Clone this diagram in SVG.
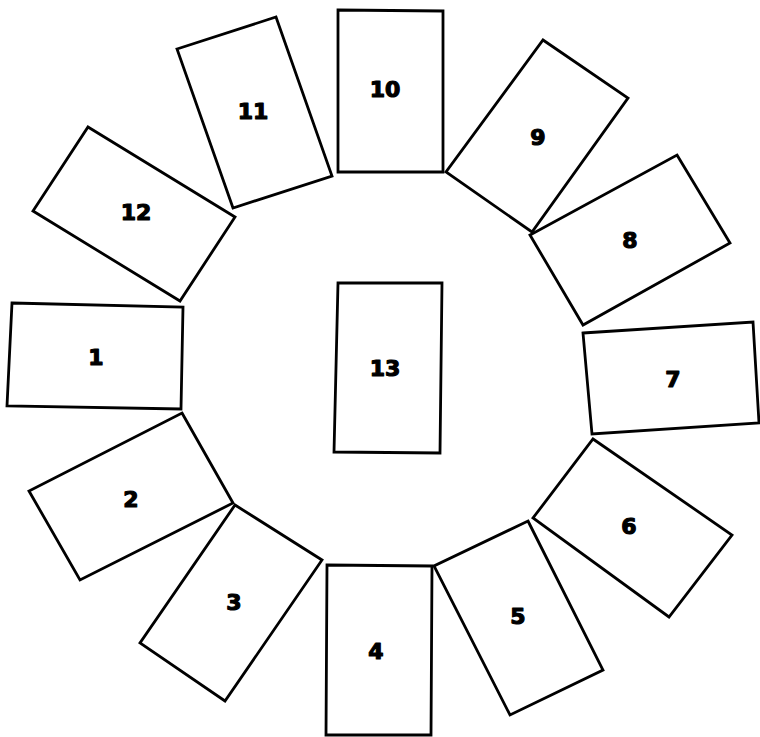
<svg xmlns="http://www.w3.org/2000/svg" width="760" height="737" viewBox="0 0 760 737">
<style>
.box{fill:#fff;stroke:#000;stroke-width:2.8;stroke-linejoin:miter}
.lbl{font-family:"DejaVu Sans","Liberation Sans",sans-serif;font-weight:bold;font-size:22px;text-anchor:middle;fill:#000;stroke:#000;stroke-width:1.2;stroke-linejoin:round}
</style>
<rect width="760" height="737" fill="#fff"/>
<g id="connectors"></g>
<g id="n1"><polygon class="box" points="12,303 183,307 181,409 7,406"/><text class="lbl" x="96" y="365">1</text></g>
<g id="n2"><polygon class="box" points="182,413 233,503 80,580 29,491"/><text class="lbl" x="131" y="507">2</text></g>
<g id="n3"><polygon class="box" points="235,505 322,560 225,701 140,643"/><text class="lbl" x="234" y="610">3</text></g>
<g id="n4"><polygon class="box" points="327,565 432,566 431,735 326,735"/><text class="lbl" x="376" y="659">4</text></g>
<g id="n5"><polygon class="box" points="528,521 603,670 510,715 434,566"/><text class="lbl" x="518" y="624">5</text></g>
<g id="n6"><polygon class="box" points="593,439 732,535 669,617 533,518"/><text class="lbl" x="629" y="534">6</text></g>
<g id="n7"><polygon class="box" points="583,333 753,322 759,423 592,434"/><text class="lbl" x="673" y="387">7</text></g>
<g id="n8"><polygon class="box" points="677,155 730,243 583,325 530,235"/><text class="lbl" x="630" y="248">8</text></g>
<g id="n9"><polygon class="box" points="543,40 628,98 532,232 446,172"/><text class="lbl" x="538" y="145">9</text></g>
<g id="n10"><polygon class="box" points="338,10 443,11 443,172 338,172"/><text class="lbl" x="385" y="97">10</text></g>
<g id="n11"><polygon class="box" points="177,49 276,17 332,176 233,208"/><text class="lbl" x="253" y="119">11</text></g>
<g id="n12"><polygon class="box" points="88,127 235,217 180,301 33,211"/><text class="lbl" x="136" y="220">12</text></g>
<g id="n13"><polygon class="box" points="338,283 442,283 440,453 334,452"/><text class="lbl" x="385" y="376">13</text></g>
</svg>
